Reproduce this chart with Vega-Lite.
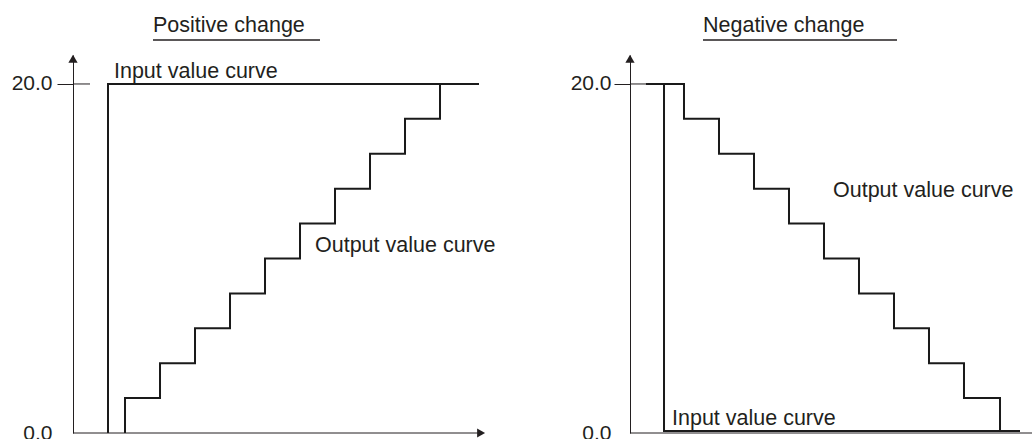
{
  "$schema": "https://vega.github.io/schema/vega-lite/v6.json",
  "usermeta": {"embedOptions": {"actions": false}},
  "width": 959,
  "height": 378,
  "autosize": {"type": "none"},
  "padding": {"left": 73, "top": 55, "right": 0, "bottom": 6},
  "background": "white",
  "config": {"view": {"stroke": null}, "font": "Liberation Sans"},
  "datasets": {
    "curves": [
      {"panel": "L", "series": "Input", "i": 0, "t": 1.0, "v": 0},
      {"panel": "L", "series": "Input", "i": 1, "t": 1.0, "v": 20},
      {"panel": "L", "series": "Input", "i": 2, "t": 11.6, "v": 20},
      {"panel": "L", "series": "Output", "i": 0, "t": 1.486, "v": 0},
      {"panel": "L", "series": "Output", "i": 1, "t": 1.486, "v": 2},
      {"panel": "L", "series": "Output", "i": 2, "t": 2.486, "v": 4},
      {"panel": "L", "series": "Output", "i": 3, "t": 3.486, "v": 6},
      {"panel": "L", "series": "Output", "i": 4, "t": 4.486, "v": 8},
      {"panel": "L", "series": "Output", "i": 5, "t": 5.486, "v": 10},
      {"panel": "L", "series": "Output", "i": 6, "t": 6.486, "v": 12},
      {"panel": "L", "series": "Output", "i": 7, "t": 7.486, "v": 14},
      {"panel": "L", "series": "Output", "i": 8, "t": 8.486, "v": 16},
      {"panel": "L", "series": "Output", "i": 9, "t": 9.486, "v": 18},
      {"panel": "L", "series": "Output", "i": 10, "t": 10.486, "v": 20},
      {"panel": "L", "series": "Output", "i": 11, "t": 11.6, "v": 20},
      {"panel": "R", "series": "Input", "i": 0, "t": 16.371, "v": 20},
      {"panel": "R", "series": "Input", "i": 1, "t": 16.886, "v": 0.12},
      {"panel": "R", "series": "Input", "i": 2, "t": 27.057, "v": 0.12},
      {"panel": "R", "series": "Output", "i": 0, "t": 16.371, "v": 20},
      {"panel": "R", "series": "Output", "i": 1, "t": 17.457, "v": 18},
      {"panel": "R", "series": "Output", "i": 2, "t": 18.457, "v": 16},
      {"panel": "R", "series": "Output", "i": 3, "t": 19.457, "v": 14},
      {"panel": "R", "series": "Output", "i": 4, "t": 20.457, "v": 12},
      {"panel": "R", "series": "Output", "i": 5, "t": 21.457, "v": 10},
      {"panel": "R", "series": "Output", "i": 6, "t": 22.457, "v": 8},
      {"panel": "R", "series": "Output", "i": 7, "t": 23.457, "v": 6},
      {"panel": "R", "series": "Output", "i": 8, "t": 24.457, "v": 4},
      {"panel": "R", "series": "Output", "i": 9, "t": 25.457, "v": 2},
      {"panel": "R", "series": "Output", "i": 10, "t": 26.486, "v": 0.12},
      {"panel": "R", "series": "Output", "i": 11, "t": 27.057, "v": 0.12}
    ],
    "rules": [
      {"kind": "axis", "t": 0, "t2": 11.66, "v": 0},
      {"kind": "axis", "t": 15.914, "t2": 27.4, "v": 0},
      {"kind": "tick", "t": 0, "t2": 0.486, "v": 20},
      {"kind": "tick", "t": 15.914, "t2": 16.43, "v": 20},
      {"kind": "underline", "t": 2.286, "t2": 7.057, "v": 22.52},
      {"kind": "underline", "t": 18.0, "t2": 23.543, "v": 22.52}
    ],
    "arrows": [
      {"dir": "up", "t": 0, "v": 21.44},
      {"dir": "right", "t": 11.66, "v": 0},
      {"dir": "up", "t": 15.914, "v": 21.44}
    ],
    "labels": [
      {"text": "Positive change", "t": 2.286, "v": 22.98},
      {"text": "Negative change", "t": 18.0, "v": 22.98},
      {"text": "Input value curve", "t": 1.171, "v": 20.34},
      {"text": "Output value curve", "t": 6.914, "v": 10.37},
      {"text": "Output value curve", "t": 21.714, "v": 13.52},
      {"text": "Input value curve", "t": 17.114, "v": 0.46}
    ]
  },
  "resolve": {"axis": {"y": "independent"}},
  "layer": [
    {
      "data": {"name": "curves"},
      "transform": [{"filter": "datum.panel === 'L'"}],
      "mark": {"type": "line", "interpolate": "step-after", "stroke": "#1a1a1a", "strokeWidth": 2},
      "encoding": {
        "x": {"field": "t", "type": "quantitative", "scale": {"domain": [0, 27.4], "nice": false, "zero": false}, "axis": null},
        "y": {
          "field": "v", "type": "quantitative",
          "scale": {"domain": [0, 21.66], "nice": false, "zero": false},
          "axis": {
            "orient": "left", "values": [0, 20], "format": ".1f", "title": null, "grid": false,
            "labelFont": "Liberation Sans", "labelFontSize": 21, "labelColor": "#231f20",
            "labelPadding": 5, "labelFlush": false, "labelOverlap": false, "labelBound": false,
            "tickSize": 16, "tickWidth": 1,
            "tickColor": {"condition": {"test": "datum.value === 0", "value": "transparent"}, "value": "#231f20"},
            "domainColor": "#231f20", "domainWidth": 1
          }
        },
        "detail": {"field": "series"},
        "order": {"field": "i"}
      }
    },
    {
      "data": {"name": "curves"},
      "transform": [{"filter": "datum.panel === 'R'"}],
      "mark": {"type": "line", "interpolate": "step-after", "stroke": "#1a1a1a", "strokeWidth": 2},
      "encoding": {
        "x": {"field": "t", "type": "quantitative", "scale": {"domain": [0, 27.4], "nice": false, "zero": false}, "axis": null},
        "y": {
          "field": "v", "type": "quantitative",
          "scale": {"domain": [0, 21.66], "nice": false, "zero": false},
          "axis": {
            "orient": "left", "offset": -557, "values": [0, 20], "format": ".1f", "title": null, "grid": false,
            "labelFont": "Liberation Sans", "labelFontSize": 21, "labelColor": "#231f20",
            "labelPadding": 3, "labelFlush": false, "labelOverlap": false, "labelBound": false,
            "tickSize": 16, "tickWidth": 1,
            "tickColor": {"condition": {"test": "datum.value === 0", "value": "transparent"}, "value": "#231f20"},
            "domainColor": "#231f20", "domainWidth": 1
          }
        },
        "detail": {"field": "series"},
        "order": {"field": "i"}
      }
    },
    {
      "data": {"name": "rules"},
      "transform": [{"filter": "datum.kind !== 'underline'"}],
      "mark": {"type": "rule", "stroke": "#231f20", "strokeWidth": 1},
      "encoding": {
        "x": {"field": "t", "type": "quantitative", "scale": {"domain": [0, 27.4], "nice": false, "zero": false}, "axis": null},
        "x2": {"field": "t2"},
        "y": {"field": "v", "type": "quantitative", "scale": {"domain": [0, 21.66], "nice": false, "zero": false}, "axis": null}
      }
    },
    {
      "data": {"name": "rules"},
      "transform": [{"filter": "datum.kind === 'underline'"}],
      "mark": {"type": "rule", "stroke": "#231f20", "strokeWidth": 1.4},
      "encoding": {
        "x": {"field": "t", "type": "quantitative", "scale": {"domain": [0, 27.4], "nice": false, "zero": false}, "axis": null},
        "x2": {"field": "t2"},
        "y": {"field": "v", "type": "quantitative", "scale": {"domain": [0, 21.66], "nice": false, "zero": false}, "axis": null}
      }
    },
    {
      "data": {"name": "arrows"},
      "mark": {"type": "point", "filled": true, "color": "#231f20", "size": 85, "opacity": 1, "strokeWidth": 0},
      "encoding": {
        "x": {"field": "t", "type": "quantitative", "scale": {"domain": [0, 27.4], "nice": false, "zero": false}, "axis": null},
        "y": {"field": "v", "type": "quantitative", "scale": {"domain": [0, 21.66], "nice": false, "zero": false}, "axis": null},
        "shape": {"field": "dir", "type": "nominal", "scale": {"domain": ["up", "right"], "range": ["triangle-up", "triangle-right"]}, "legend": null}
      }
    },
    {
      "data": {"name": "labels"},
      "mark": {"type": "text", "align": "left", "baseline": "alphabetic", "font": "Liberation Sans", "fontSize": 21.5, "color": "#231f20"},
      "encoding": {
        "x": {"field": "t", "type": "quantitative", "scale": {"domain": [0, 27.4], "nice": false, "zero": false}, "axis": null},
        "y": {"field": "v", "type": "quantitative", "scale": {"domain": [0, 21.66], "nice": false, "zero": false}, "axis": null},
        "text": {"field": "text"}
      }
    }
  ]
}
